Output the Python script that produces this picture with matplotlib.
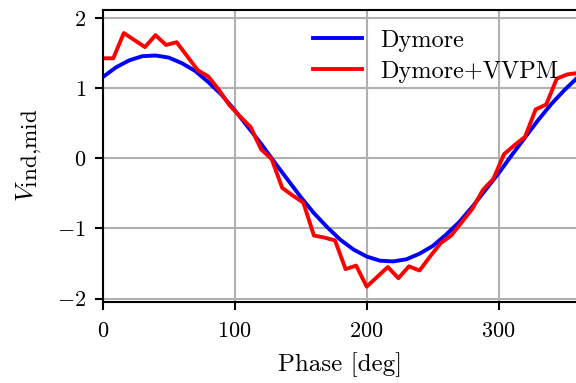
import matplotlib
matplotlib.use("Agg")
import matplotlib.pyplot as plt
import matplotlib._mathtext as mathtext_internal

# Larger sub/superscripts in mathtext labels
mathtext_internal.SHRINK_FACTOR = 0.9

plt.rcParams.update({
    "font.family": "serif",
    "font.serif": ["cmr10"],
    "mathtext.fontset": "cm",
    "axes.formatter.use_mathtext": True,
    "font.size": 16,
})

# Dymore: induced velocity at mid-span over one revolution (10 deg steps)
phase_dymore = list(range(0, 361, 10))
v_dymore = [1.16, 1.30, 1.40, 1.46, 1.47, 1.44, 1.36, 1.25, 1.09, 0.91,
            0.69, 0.45, 0.21, -0.05, -0.30, -0.55, -0.78, -0.98, -1.16, -1.30,
            -1.40, -1.46, -1.47, -1.44, -1.36, -1.25, -1.09, -0.91, -0.69, -0.45,
            -0.21, 0.05, 0.30, 0.55, 0.78, 0.98, 1.16]

# Dymore+VVPM: coupled result (8 deg steps)
phase_vvpm = list(range(0, 361, 8))
v_vvpm = [1.43, 1.43, 1.79, 1.69, 1.59, 1.76, 1.62, 1.66, 1.46, 1.26,
          1.17, 0.98, 0.76, 0.60, 0.45, 0.13, -0.01, -0.42, -0.53, -0.63,
          -1.10, -1.13, -1.17, -1.58, -1.53, -1.83, -1.69, -1.55, -1.71, -1.54,
          -1.60, -1.40, -1.21, -1.10, -0.91, -0.72, -0.45, -0.29, 0.06, 0.19,
          0.31, 0.70, 0.77, 1.14, 1.20, 1.22]

x_ticks = [0, 100, 200, 300]
y_ticks = [-2, -1, 0, 1, 2]

fig = plt.figure(figsize=(5.76, 3.83), dpi=100)
ax = fig.add_axes([0.1783, 0.2123, 0.8250, 0.7617])

ax.plot(phase_dymore, v_dymore, color="#0000ff", lw=2.8, label="Dymore")
ax.plot(phase_vvpm, v_vvpm, color="#ff0000", lw=2.8, label="Dymore+VVPM")

ax.set_xlim(0, 360)
ax.set_ylim(-2.045, 2.12)
ax.set_xticks(x_ticks)
ax.set_yticks(y_ticks)
ax.grid(True, color="#b0b0b0", lw=1.5)
ax.set_axisbelow(True)
for s in ax.spines.values():
    s.set_linewidth(1.5)
ax.tick_params(axis="x", direction="out", length=6, width=1.5, pad=8,
               labelsize=16)
ax.tick_params(axis="y", direction="out", length=6, width=1.5, pad=6,
               labelsize=16)

ax.set_xlabel("Phase [deg]", fontsize=18, labelpad=8)
ax.set_ylabel(r"$V_{\mathrm{ind{,}mid}}$", fontsize=18.5, labelpad=9)

ax.legend(loc="upper right", frameon=False, handlelength=2.0,
          handletextpad=0.75, labelspacing=0.38, borderaxespad=0.4,
          fontsize=17.5)

fig.savefig("out.png", dpi=100)
